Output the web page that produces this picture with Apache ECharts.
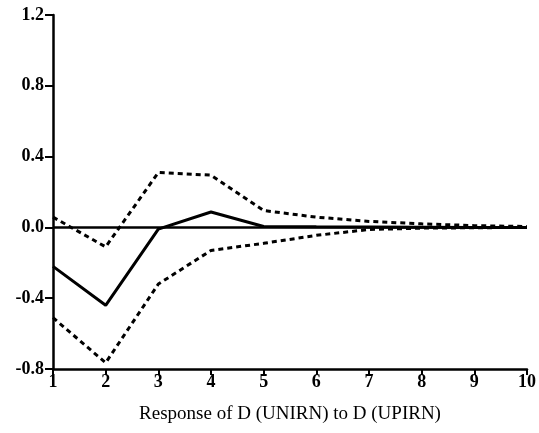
<!DOCTYPE html>
<html>
<head>
<meta charset="utf-8">
<script src="https://cdn.jsdelivr.net/npm/echarts@6/dist/echarts.min.js"></script>
<style>
  html, body { margin: 0; padding: 0; background: #fff; }
  #chart { width: 539px; height: 433px; }
</style>
</head>
<body>
<div id="chart"></div>
<script>
// periods on the x axis
const periods = [1, 2, 3, 4, 5, 6, 7, 8, 9, 10];
// impulse response and +/- 2 s.e. bands
const response = [-0.22, -0.44, -0.01, 0.087, 0.005, 0.003, 0.002, 0.001, 0.0, 0.0];
const upperBand = [0.058, -0.11, 0.31, 0.295, 0.095, 0.058, 0.034, 0.02, 0.01, 0.005];
const lowerBand = [-0.51, -0.765, -0.32, -0.13, -0.09, -0.045, -0.012, -0.004, -0.002, 0.0];
const title = 'Response of D (UNIRN) to D (UPIRN)';

const pairs = ys => periods.map((x, i) => [x, ys[i]]);
const font = '"Liberation Serif", "DejaVu Serif", serif';

const chart = echarts.init(document.getElementById('chart'));
chart.setOption({
  animation: false,
  backgroundColor: '#fff',
  grid: { left: 53, right: 9, top: 15, bottom: 64 },
  xAxis: {
    type: 'value', min: 1, max: 10, interval: 1,
    name: title, nameLocation: 'middle', nameGap: 36,
    nameTextStyle: { fontFamily: font, fontSize: 19, color: '#000' },
    axisLine: { onZero: false, lineStyle: { color: '#000', width: 2.5 } },
    axisTick: { length: 6, lineStyle: { color: '#000', width: 2 } },
    axisLabel: { fontFamily: font, fontSize: 18, fontWeight: 'bold', color: '#000', margin: 4 },
    splitLine: { show: false }
  },
  yAxis: {
    type: 'value', min: -0.8, max: 1.2, interval: 0.4,
    axisLine: { show: true, onZero: false, lineStyle: { color: '#000', width: 2.5 } },
    axisTick: { show: true, length: 8, lineStyle: { color: '#000', width: 2 } },
    axisLabel: {
      fontFamily: font, fontSize: 18, fontWeight: 'bold', color: '#000', margin: 9,
      formatter: v => v.toFixed(1)
    },
    splitLine: { show: false }
  },
  series: [
    {
      type: 'line', data: pairs(response), symbol: 'none',
      lineStyle: { color: '#000', width: 3 },
      markLine: {
        silent: true, symbol: 'none', label: { show: false },
        lineStyle: { color: '#000', width: 2.5, type: 'solid' },
        data: [{ yAxis: 0 }]
      }
    },
    {
      type: 'line', data: pairs(upperBand), symbol: 'none',
      lineStyle: { color: '#000', width: 3, type: [5, 4] }
    },
    {
      type: 'line', data: pairs(lowerBand), symbol: 'none',
      lineStyle: { color: '#000', width: 3, type: [5, 4] }
    }
  ]
});
</script>
</body>
</html>
